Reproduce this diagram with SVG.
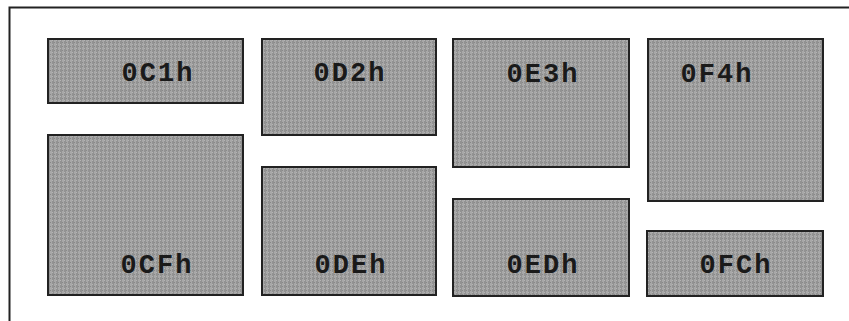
<svg xmlns="http://www.w3.org/2000/svg" width="849" height="321" viewBox="0 0 849 321">
<defs>
<pattern id="stripes" width="4" height="4" patternUnits="userSpaceOnUse">
<rect width="4" height="4" fill="#a8a8a8"/>
<rect x="0" width="2" height="4" fill="#929292"/>
<rect x="0" y="0" width="1" height="1" fill="#b4b4b4"/>
<rect x="2" y="2" width="1" height="1" fill="#888888"/>
</pattern>
</defs>
<style>
.box{fill:url(#stripes);stroke:#222;stroke-width:2}
.lbl{font-family:"Liberation Mono","Courier New",monospace;font-weight:bold;font-size:27px;fill:#1a1a1a;text-anchor:middle;letter-spacing:2px}
.frame{fill:none;stroke:#222;stroke-width:2}
</style>
<rect width="849" height="321" fill="#ffffff"/>
<path class="frame" d="M9.5,321 V7.5 H849"/>
<g id="n0C1h"><rect class="box" x="48" y="39" width="195" height="64"/><text class="lbl" x="158" y="81">0C1h</text></g>
<g id="n0D2h"><rect class="box" x="262" y="39" width="174" height="96"/><text class="lbl" x="350" y="81">0D2h</text></g>
<g id="n0E3h"><rect class="box" x="453" y="39" width="176" height="128"/><text class="lbl" x="543" y="82">0E3h</text></g>
<g id="n0F4h"><rect class="box" x="648" y="39" width="175" height="162"/><text class="lbl" x="717" y="82">0F4h</text></g>
<g id="n0CFh"><rect class="box" x="48" y="135" width="195" height="160"/><text class="lbl" x="157" y="273">0CFh</text></g>
<g id="n0DEh"><rect class="box" x="262" y="167" width="174" height="128"/><text class="lbl" x="351" y="273">0DEh</text></g>
<g id="n0EDh"><rect class="box" x="453" y="199" width="176" height="97"/><text class="lbl" x="543" y="273">0EDh</text></g>
<g id="n0FCh"><rect class="box" x="647" y="231" width="176" height="65"/><text class="lbl" x="736" y="273">0FCh</text></g>
<g id="connectors"/>
</svg>
